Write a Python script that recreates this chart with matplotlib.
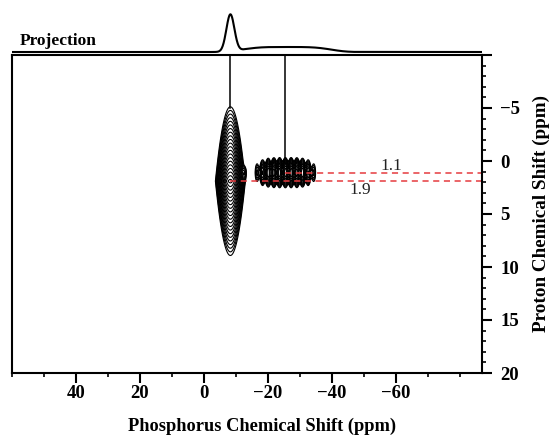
import numpy as np
import matplotlib
matplotlib.use("Agg")
import matplotlib.pyplot as plt
from matplotlib.ticker import MultipleLocator, FixedLocator, FuncFormatter

plt.rcParams['font.family'] = ['Liberation Serif', 'DejaVu Serif']
plt.rcParams['axes.unicode_minus'] = True

# ---- data ----
# 2D peaks: (center_31P ppm, center_1H ppm, amplitude, width_31P, width_1H)
peak_p = [-8.3, -25.5, -12.8]
peak_h = [1.9, 1.1, 1.1]
peak_amp = [1.0, 0.12, 0.045]
peak_wp = [2.5, 8.7, 0.45]
peak_wh = [2.0, 1.1, 0.5]
ripple_period = 1.8      # ppm, ripple of the broad component
ripple_depth = 0.35

# 1D projection (31P): centers, heights, widths
proj_center = [-8.3, -26.0]
proj_height = [1.0, 0.135]
proj_width = [1.25, 15.0]

# marked proton shifts
marks_h = [1.1, 1.9]
marks_p_start = [-25.5, -8.3]
mark_labels = ['1.1', '1.9']
label_pos_p = [-58.5, -49.0]
label_pos_h = [0.5, 2.7]

x_major = [40, 20, 0, -20, -40, -60]
y_major = [-10, -5, 0, 5, 10, 15, 20]
xlim = (60, -87)
ylim = (20, -10)

# ---- figure ----
W, H = 553, 438
fig = plt.figure(figsize=(W / 100, H / 100), dpi=100)
L, R, B, T = 12 / W, 482 / W, 1 - 373 / H, 1 - 55 / H
ax = fig.add_axes([L, B, R - L, T - B])
axp = fig.add_axes([L, T, R - L, (55 - 6) / H], sharex=ax)

# 2D surface built from the peak parameters
xp = np.linspace(xlim[1], xlim[0], 1000)
yh = np.linspace(ylim[1], ylim[0], 800)
X, Y = np.meshgrid(xp, yh)
Z = np.zeros_like(X)
# main narrow peak: gaussian in 31P, exponential (pointed) in 1H
Z += peak_amp[0] * np.exp(-((X - peak_p[0]) / peak_wp[0]) ** 2
                          - np.abs(Y - peak_h[0]) / peak_wh[0])
# broad flat-topped component with ripple
dx = X - peak_p[1]
Z += peak_amp[1] * np.exp(-((dx / peak_wp[1]) ** 4)
                          - ((Y - peak_h[1]) / peak_wh[1]) ** 2) * \
    (1 + ripple_depth * np.cos(2 * np.pi * dx / ripple_period))
# small satellite
Z += peak_amp[2] * np.exp(-((X - peak_p[2]) / peak_wp[2]) ** 2
                          - ((Y - peak_h[2]) / peak_wh[2]) ** 2)

levels = np.geomspace(0.03, 0.92, 21)
ax.contour(X, Y, Z, levels=levels, colors='black', linewidths=0.8)

# vertical guide lines
ax.plot([peak_p[0], peak_p[0]], [ylim[1], -5.0], color='black', lw=1.1)
ax.plot([peak_p[1], peak_p[1]], [ylim[1], 0.2], color='black', lw=1.1)

# red dashed markers
for h, ps in zip(marks_h, marks_p_start):
    ax.plot([ps, xlim[1]], [h, h], color='#e53b3f', lw=1.1,
            dashes=(4, 3))
for t, px, py in zip(mark_labels, label_pos_p, label_pos_h):
    ax.text(px, py, t, fontsize=12.5, ha='center', va='center', color='#222222')

ax.set_xlim(*xlim)
ax.set_ylim(*ylim)
ax.xaxis.set_major_locator(FixedLocator(x_major))
ax.xaxis.set_minor_locator(MultipleLocator(10))
ax.yaxis.set_major_locator(FixedLocator(y_major))
ax.yaxis.set_minor_locator(MultipleLocator(1))
ax.yaxis.tick_right()
ax.yaxis.set_label_position('right')
ax.yaxis.set_major_formatter(FuncFormatter(
    lambda v, p: '' if v == -10 else f'{v:g}'.replace('-', '\u2212')))
ax.xaxis.set_major_formatter(FuncFormatter(
    lambda v, p: f'{v:g}'.replace('-', '\u2212')))
ax.tick_params(axis='x', which='major', direction='out', length=7, width=1.5,
               labelsize=13.5, pad=2, top=False)
ax.tick_params(axis='x', which='minor', direction='out', length=3, width=1.2,
               top=False)
ax.tick_params(axis='y', which='major', direction='out', length=7, width=1.5,
               labelsize=13.5, pad=6, left=False, right=True)
ax.tick_params(axis='y', which='minor', direction='out', length=3, width=1.2,
               left=False, right=True)
for lab in ax.get_xticklabels() + ax.get_yticklabels():
    lab.set_fontweight('bold')
for s in ax.spines.values():
    s.set_linewidth(1.5)

ax.set_xlabel('Phosphorus Chemical Shift (ppm)', fontsize=13.2,
              fontweight='bold')
ax.xaxis.set_label_coords(0.532, -0.14)
ax.set_ylabel('Proton Chemical Shift (ppm)', fontsize=13.8,
              fontweight='bold', labelpad=9)

# projection
xx = np.linspace(xlim[1], xlim[0], 2000)
proj = np.zeros_like(xx)
proj += proj_height[0] * np.exp(-0.5 * ((xx - proj_center[0]) / proj_width[0]) ** 2)
proj += proj_height[1] * np.exp(-((xx - proj_center[1]) / proj_width[1]) ** 4)
axp.plot(xx, proj, color='black', lw=1.5)
axp.set_ylim(-3 / 37, 1 + 9 / 37)
axp.axis('off')
axp.text(0.017, 0.28, 'Projection', transform=axp.transAxes, fontsize=12.5,
         fontweight='bold', ha='left', va='center')

fig.savefig('out.png', dpi=100)
